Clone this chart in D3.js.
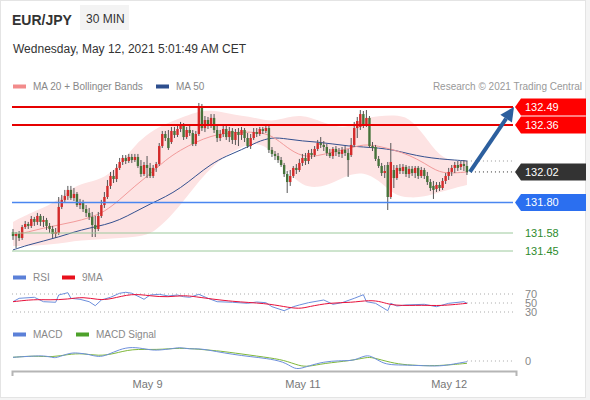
<!DOCTYPE html>
<html><head><meta charset="utf-8">
<script src="https://cdn.jsdelivr.net/npm/d3@7"></script>
<style>
html,body{margin:0;padding:0;background:#fff;}
svg{display:block;font-family:"Liberation Sans",Arial,Helvetica,sans-serif;}
</style></head><body>
<svg id="c" width="590" height="400"></svg>
<script>
// ---- DATA ----
const pair = "EUR/JPY";
const period = "30 MIN";
const stamp = "Wednesday, May 12, 2021 5:01:49 AM CET";
// candles: [open, high, low, close]
const candles = [
[131.587,131.609,131.530,131.558],[131.558,131.587,131.472,131.573],[131.573,131.594,131.522,131.544],[131.544,131.638,131.530,131.623],
[131.623,131.667,131.609,131.645],[131.645,131.660,131.609,131.631],[131.631,131.703,131.616,131.681],[131.681,131.696,131.631,131.660],
[131.660,131.725,131.638,131.703],[131.703,131.717,131.631,131.660],[131.660,131.703,131.623,131.674],[131.674,131.689,131.602,131.631],
[131.631,131.652,131.580,131.609],[131.609,131.631,131.544,131.573],[131.573,131.616,131.544,131.587],[131.580,131.840,131.566,131.768],
[131.768,131.855,131.753,131.819],[131.819,131.891,131.797,131.847],[131.847,131.920,131.819,131.891],[131.891,131.920,131.819,131.833],
[131.833,131.905,131.811,131.862],[131.862,131.876,131.768,131.782],[131.782,131.826,131.753,131.797],[131.797,131.819,131.732,131.753],
[131.753,131.782,131.696,131.725],[131.725,131.761,131.674,131.696],[131.696,131.732,131.551,131.638],[131.638,131.703,131.551,131.609],
[131.609,131.732,131.594,131.703],[131.703,131.819,131.689,131.782],[131.782,131.876,131.761,131.840],[131.840,131.963,131.826,131.920],
[131.920,132.021,131.898,131.992],[131.992,132.035,131.941,131.970],[131.970,132.078,131.948,132.050],[132.050,132.122,132.035,132.093],
[132.093,132.143,132.071,132.122],[132.122,132.143,132.078,132.100],[132.100,132.151,132.086,132.129],[132.129,132.151,132.086,132.107],
[132.107,132.151,132.093,132.129],[132.129,132.151,132.050,132.064],[132.064,132.107,131.985,132.006],[132.006,132.093,131.992,132.071],
[132.071,132.136,131.977,132.050],[132.050,132.086,131.977,131.992],[131.992,132.071,131.977,132.050],[132.050,132.093,132.021,132.078],
[132.078,132.230,132.064,132.208],[132.208,132.317,132.194,132.295],[132.295,132.317,132.244,132.266],[132.266,132.324,132.180,132.194],
[132.237,132.346,132.223,132.317],[132.317,132.346,132.266,132.288],[132.288,132.353,132.273,132.331],[132.331,132.382,132.309,132.360],
[132.360,132.374,132.252,132.273],[132.273,132.346,132.259,132.324],[132.324,132.353,132.281,132.302],[132.302,132.324,132.208,132.223],
[132.223,132.317,132.208,132.295],[132.295,132.519,132.281,132.483],[132.497,132.512,132.317,132.338],[132.338,132.425,132.309,132.396],
[132.396,132.418,132.331,132.353],[132.353,132.439,132.338,132.411],[132.411,132.439,132.302,132.324],[132.324,132.353,132.237,132.266],
[132.266,132.324,132.244,132.295],[132.295,132.353,132.273,132.331],[132.331,132.353,132.252,132.273],[132.273,132.346,132.237,132.317],
[132.317,132.338,132.223,132.252],[132.252,132.331,132.216,132.309],[132.309,132.338,132.208,132.288],[132.288,132.346,132.252,132.324],
[132.324,132.338,132.237,132.266],[132.266,132.302,132.194,132.208],[132.208,132.295,132.187,132.266],[132.266,132.338,132.252,132.309],
[132.309,132.338,132.273,132.295],[132.295,132.346,132.281,132.331],[132.331,132.346,132.295,132.317],[132.317,132.353,132.302,132.338],
[132.338,132.353,132.158,132.180],[132.180,132.201,132.129,132.151],[132.151,132.172,132.107,132.136],[132.136,132.158,132.086,132.107],
[132.107,132.129,132.057,132.071],[132.071,132.086,131.985,132.006],[132.006,132.028,131.869,131.948],[131.948,132.035,131.920,131.992],
[131.992,132.064,131.977,132.050],[132.050,132.078,132.006,132.035],[132.035,132.115,132.021,132.086],[132.086,132.151,132.064,132.122],
[132.122,132.158,132.071,132.100],[132.100,132.180,132.078,132.158],[132.158,132.187,132.115,132.143],[132.143,132.208,132.129,132.187],
[132.187,132.252,132.172,132.230],[132.230,132.273,132.194,132.216],[132.216,132.244,132.172,132.201],[132.201,132.223,132.136,132.158],
[132.158,132.187,132.122,132.136],[132.136,132.201,132.115,132.187],[132.187,132.208,132.136,132.165],[132.165,132.194,132.129,132.151],
[132.151,132.201,132.122,132.180],[132.180,132.208,132.136,132.158],[132.158,132.187,131.985,132.107],[132.143,132.266,132.129,132.216],
[132.216,132.382,132.201,132.338],[132.338,132.418,132.266,132.389],[132.346,132.468,132.324,132.439],[132.439,132.461,132.338,132.367],
[132.360,132.468,132.346,132.411],[132.411,132.425,132.194,132.208],[132.208,132.237,132.172,132.194],[132.201,132.216,132.100,132.115],
[132.115,132.136,132.050,132.064],[132.064,132.086,131.992,132.013],[132.013,132.071,131.977,132.028],[132.071,132.093,131.746,131.840],
[131.840,132.230,131.826,132.093],[132.035,132.071,131.905,131.977],[131.977,132.071,131.963,132.050],[132.050,132.078,132.006,132.028],
[132.028,132.078,132.006,132.057],[132.057,132.071,131.985,132.006],[132.006,132.064,131.977,132.043],[132.043,132.064,131.992,132.013],
[132.013,132.064,131.977,132.050],[132.050,132.064,131.970,131.992],[131.992,132.057,131.977,132.035],[132.035,132.050,131.970,131.992],
[131.992,132.021,131.927,131.948],[131.948,131.970,131.883,131.905],[131.920,131.956,131.826,131.891],[131.898,131.948,131.876,131.927],
[131.927,131.948,131.883,131.905],[131.905,131.977,131.891,131.956],[131.956,132.013,131.934,131.992],[131.992,132.050,131.963,132.021],
[132.021,132.071,131.992,132.050],[132.050,132.093,132.013,132.071],[132.071,132.100,132.028,132.050],[132.057,132.100,132.035,132.078],
[132.078,132.107,132.028,132.064],[132.064,132.100,131.999,132.021]
];
// indicator samples (candle index -> value)
const bandIdx = [0,5,10,15,20,25,30,35,40,45,50,55,60,65,70,75,80,85,90,95,100,105,110,115,120,125,130,135,140,145,149];
const bbUpper = [131.660,131.717,131.761,131.819,131.920,131.948,131.977,132.071,132.216,132.309,132.367,132.411,132.454,132.468,132.447,132.425,132.411,132.382,132.418,132.432,132.396,132.353,132.338,132.411,132.425,132.432,132.418,132.288,132.129,132.100,132.107];
const bbLower = [131.486,131.486,131.494,131.501,131.522,131.530,131.537,131.544,131.551,131.566,131.660,131.782,131.927,132.050,132.143,132.201,132.237,132.180,132.021,131.920,131.905,131.941,131.999,132.021,131.963,131.855,131.833,131.840,131.876,131.905,131.927];
const ma20 = [131.566,131.587,131.616,131.638,131.660,131.689,131.732,131.819,131.920,132.006,132.107,132.180,132.237,132.281,132.302,132.309,132.309,132.288,132.194,132.129,132.136,132.165,132.187,132.223,132.208,132.180,132.143,132.086,132.013,132.013,132.021];
const ma50 = [131.458,131.494,131.522,131.551,131.587,131.616,131.638,131.674,131.732,131.790,131.840,131.905,131.992,132.078,132.136,132.180,132.237,132.273,132.259,132.244,132.237,132.223,132.208,132.201,132.194,132.180,132.151,132.129,132.115,132.107,132.100];

const rsiIdx = [0,2,7,10,14,15,18,19,22,25,27,29,32,35,37,39,42,43,45,48,51,54,56,58,61,64,67,72,77,80,83,85,89,92,94,97,102,105,108,112,115,116,119,123,124,126,129,135,139,143,148,149];
const rsi = [52.9,60.4,62.7,52.9,51.6,67.8,72.9,60.4,58.2,52.9,44,56.7,62.7,71.6,73.8,71.6,61.8,58.2,67.8,69.3,65.6,67.8,64,62.7,69.3,60.4,52.9,51.6,49.3,52.2,50.7,41.8,32.9,41.8,45.6,50.7,56.7,47.1,50.7,60.4,68.4,52.9,49.3,32.9,49.3,43.3,45.6,47.1,41.8,49.3,52.9,49.3];
const rsiMaIdx = [0,7,12,18,23,28,32,39,45,51,56,61,72,83,89,94,97,104,111,117,121,125,135,140,149];
const rsiMa = [52.9,58.2,56.7,58.2,64,56.7,58.2,71.6,65.6,62.7,67.8,62.7,52.9,49.3,41.8,36.7,41.8,50.7,50.7,56.7,52.9,43.3,45.6,43.3,49.3];
const rsiLevels = [70,50,30];

const macdIdx = [0,7,10,13,14,19,22,25,28,31,35,39,44,47,53,55,58,61,67,72,78,83,89,92,94,97,102,107,111,113,116,118,121,124,129,137,141,146,149];
const macd = [0.0037,0.005,0.0053,0.0037,0.0027,0.0087,0.0077,0.0067,0.0037,0.006,0.0117,0.0143,0.0117,0.0103,0.0127,0.0137,0.0117,0.0127,0.0093,0.0067,0.0043,0.0027,-0.0007,-0.0073,-0.008,-0.005,-0.0007,0.0003,0.0003,0.002,0.006,0.0043,-0.0017,-0.004,-0.004,-0.005,-0.005,-0.0023,-0.0007];
const signalIdx = [0,7,13,18,23,28,33,39,47,55,61,67,72,83,89,94,97,102,111,116,118,124,129,137,143,149];
const signal = [0.0037,0.0053,0.0037,0.0067,0.0077,0.005,0.007,0.0123,0.011,0.0133,0.0117,0.0103,0.0083,0.0037,0.001,-0.005,-0.0057,-0.0023,0.0003,0.0037,0.0037,-0.0017,-0.004,-0.005,-0.004,-0.0023];

const resistances = [132.49, 132.36];
const supportMain = 131.80;
const supportsMinor = [131.58, 131.45];
const target = 132.49;
const tickIdx = [44, 95, 143];
const tickLabels = ["May 9", "May 11", "May 12"];

// ---- DRAW ----
const svg = d3.select("#c");
const W = 590, H = 400;
svg.append("rect").attr("width",W).attr("height",H).attr("fill","#f4f4f4");
svg.append("rect").attr("x",0.5).attr("y",0.5).attr("width",585).attr("height",397).attr("fill","#fff").attr("stroke","#e4e4e4");

// header
svg.append("text").attr("x",12).attr("y",25).attr("font-size",14).attr("font-weight","bold").attr("fill","#333").text(pair);
svg.append("rect").attr("x",80).attr("y",5).attr("width",49).attr("height",25).attr("fill","#f3f3f3");
svg.append("text").attr("x",86).attr("y",22.5).attr("font-size",12).attr("fill","#333").text(period);
svg.append("text").attr("x",13).attr("y",53).attr("font-size",12).attr("fill","#333").text(stamp);

// legends
function legend(items, y){
  items.forEach(it=>{
    svg.append("rect").attr("x",it.x).attr("y",y-5.5).attr("width",13).attr("height",4).attr("fill",it.c);
    svg.append("text").attr("x",it.x+20).attr("y",y).attr("font-size",10).attr("fill","#888").text(it.t);
  });
}
legend([{x:13,c:"#f28b8b",t:"MA 20 + Bollinger Bands"},{x:156,c:"#2d4e8e",t:"MA 50"}], 90);
svg.append("text").attr("x",582).attr("y",90).attr("text-anchor","end").attr("font-size",10).attr("fill","#999").text("Research \u00a9 2021 Trading Central");
legend([{x:13,c:"#5b80d8",t:"RSI"},{x:62,c:"#e8101c",t:"9MA"}], 281);
legend([{x:13,c:"#5b80d8",t:"MACD"},{x:76,c:"#4da12a",t:"MACD Signal"}], 338);

// scales
const x = d3.scaleLinear().domain([-0.33, 165.1]).range([12, 516]);
const y = d3.scaleLinear().domain([131.45, 132.49]).range([251, 107]);
const yR = d3.scaleLinear().domain([30, 70]).range([312, 294]);
const yM = d3.scaleLinear().domain([-0.01, 0.015]).range([371, 346]);
const lastI = candles.length - 1;
const lastClose = candles[lastI][3];

// bollinger band
const band = bandIdx.map((d,k)=>({i:d,u:bbUpper[k],l:bbLower[k]}));
svg.append("path").datum(band)
  .attr("d", d3.area().x(d=>x(d.i)).y0(d=>y(d.l)).y1(d=>y(d.u)).curve(d3.curveBasis))
  .attr("fill","#fde3e3");
const lineP = (vals, idx, ys, crv) => d3.line().x((d,k)=>x(idx[k])).y(d=>ys(d)).curve(crv)(vals);
svg.append("path").attr("d", lineP(ma50, bandIdx, y, d3.curveBasis)).attr("fill","none").attr("stroke","#34508f").attr("stroke-width",1);
svg.append("path").attr("d", lineP(ma20, bandIdx, y, d3.curveBasis)).attr("fill","none").attr("stroke","#f29a9a").attr("stroke-width",1);

// candles
const cg = svg.append("g");
candles.forEach((c,i)=>{
  const [o,h,l,cl] = c;
  const up = cl >= o;
  const cx = x(i);
  cg.append("line").attr("x1",cx).attr("x2",cx).attr("y1",y(h)).attr("y2",y(l)).attr("stroke","#555").attr("stroke-width",1);
  const top = y(Math.max(o,cl)), bot = y(Math.min(o,cl));
  cg.append("rect").attr("x",cx-1.2).attr("y",top).attr("width",2.4).attr("height",Math.max(1,bot-top))
    .attr("fill", up ? "#d42a2a" : "#46733a");
});

// levels
const xEnd = 513;
resistances.forEach(v=>{
  svg.append("line").attr("x1",12).attr("x2",xEnd).attr("y1",y(v)).attr("y2",y(v)).attr("stroke","#e60000").attr("stroke-width",2);
});
svg.append("line").attr("x1",12).attr("x2",xEnd).attr("y1",y(supportMain)).attr("y2",y(supportMain)).attr("stroke","#4a86f0").attr("stroke-width",1.5);
supportsMinor.forEach(v=>{
  svg.append("line").attr("x1",12).attr("x2",xEnd).attr("y1",y(v)).attr("y2",y(v)).attr("stroke","#9cc99c").attr("stroke-width",1);
});
// dotted last levels
svg.append("line").attr("x1",x(lastI)).attr("x2",515).attr("y1",y(ma50[ma50.length-1])).attr("y2",y(ma50[ma50.length-1]))
  .attr("stroke","#999").attr("stroke-dasharray","1,3");
svg.append("line").attr("x1",x(lastI)).attr("x2",515).attr("y1",y(lastClose)).attr("y2",y(lastClose))
  .attr("stroke","#333").attr("stroke-dasharray","1,3");

// tags
function tag(v, fill, txt){
  const yy = y(v);
  svg.append("path").attr("d",`M515,${yy}L521,${yy-8.5}H586V${yy+8.5}H521Z`).attr("fill",fill);
  svg.append("text").attr("x",525).attr("y",yy).attr("dy","0.36em").attr("font-size",11).attr("fill","#fff").text(txt);
}
resistances.forEach(v=>tag(v,"#ff0000",v.toFixed(2)));
tag(lastClose,"#333333",lastClose.toFixed(2));
tag(supportMain,"#2b6ff0",supportMain.toFixed(2));
supportsMinor.forEach(v=>{
  svg.append("text").attr("x",525).attr("y",y(v)).attr("dy","0.36em").attr("font-size",11).attr("fill","#2e8b2e").text(v.toFixed(2));
});

// arrow
const ax1 = x(lastI)+3, ay1 = y(lastClose), ax2 = 514, ay2 = y(target);
const ang = Math.atan2(ay2-ay1, ax2-ax1);
const hl = 14, hw = 7;
const bx = ax2 - hl*Math.cos(ang), by = ay2 - hl*Math.sin(ang);
svg.append("line").attr("x1",ax1).attr("y1",ay1).attr("x2",bx).attr("y2",by).attr("stroke","#2c5f9e").attr("stroke-width",4);
svg.append("path").attr("d",`M${ax2},${ay2}L${bx+hw*Math.sin(ang)},${by-hw*Math.cos(ang)}L${bx-hw*Math.sin(ang)},${by+hw*Math.cos(ang)}Z`).attr("fill","#2c5f9e");

// RSI panel
rsiLevels.forEach(v=>{
  svg.append("line").attr("x1", v===50 ? x(lastI) : 12).attr("x2",513).attr("y1",yR(v)).attr("y2",yR(v))
    .attr("stroke","#aaa").attr("stroke-dasharray","1,3");
  svg.append("text").attr("x",525).attr("y",yR(v)).attr("dy","0.36em").attr("font-size",11).attr("fill","#888").text(v);
});
svg.append("path").attr("d", lineP(rsi, rsiIdx, yR, d3.curveLinear)).attr("fill","none").attr("stroke","#6d8fdc").attr("stroke-width",1);
svg.append("path").attr("d", lineP(rsiMa, rsiMaIdx, yR, d3.curveBasis)).attr("fill","none").attr("stroke","#e8103a").attr("stroke-width",1);

// MACD panel
svg.append("line").attr("x1",x(lastI)).attr("x2",513).attr("y1",yM(0)).attr("y2",yM(0)).attr("stroke","#aaa").attr("stroke-dasharray","1,3");
svg.append("text").attr("x",525).attr("y",yM(0)).attr("dy","0.36em").attr("font-size",11).attr("fill","#888").text("0");
svg.append("path").attr("d", lineP(signal, signalIdx, yM, d3.curveBasis)).attr("fill","none").attr("stroke","#7fb83a").attr("stroke-width",1);
svg.append("path").attr("d", lineP(macd, macdIdx, yM, d3.curveBasis)).attr("fill","none").attr("stroke","#6d8fdc").attr("stroke-width",1);

// x axis
const ax = svg.append("g").attr("transform","translate(0,371)")
  .call(d3.axisBottom(x).tickValues(tickIdx).tickFormat((d,k)=>tickLabels[k]).tickSizeInner(0).tickSizeOuter(5).tickPadding(9));
ax.select(".domain").attr("stroke","#b5b5b5").attr("stroke-width",2);
ax.selectAll("text").attr("font-size",11).attr("fill","#777").attr("font-family","Liberation Sans, Arial, sans-serif");
</script>
</body></html>
